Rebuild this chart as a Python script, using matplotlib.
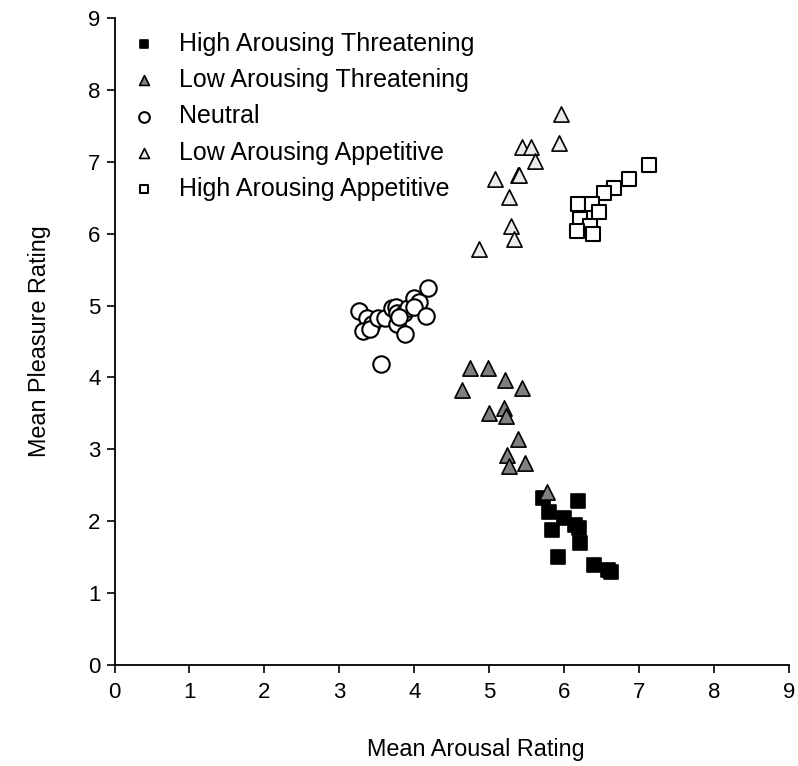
import matplotlib
matplotlib.use("Agg")
from matplotlib import pyplot as plt

plt.rcParams['font.family'] = ['Liberation Sans', 'DejaVu Sans']

# mean ratings per picture, grouped by category
hat_x = [5.72, 5.80, 5.84, 5.92, 6.00, 6.15, 6.20, 6.18, 6.21, 6.40, 6.58, 6.63]
hat_y = [2.32, 2.13, 1.88, 1.50, 2.04, 1.95, 1.90, 2.28, 1.70, 1.39, 1.32, 1.30]

lat_x = [4.64, 4.75, 4.99, 5.00, 5.21, 5.20, 5.22, 5.24, 5.27, 5.39, 5.44, 5.48, 5.77]
lat_y = [3.82, 4.13, 4.13, 3.50, 3.96, 3.57, 3.46, 2.92, 2.77, 3.15, 3.85, 2.81, 2.41]

neu_x = [3.26, 3.37, 3.43, 3.32, 3.41, 3.51, 3.61, 3.70, 3.75, 3.77, 3.77, 3.87,
         3.86, 3.92, 4.00, 4.06, 4.00, 4.15, 4.18, 3.56, 3.80]
neu_y = [4.92, 4.83, 4.75, 4.64, 4.67, 4.82, 4.82, 4.96, 4.98, 4.89, 4.75, 4.61,
         4.90, 4.96, 5.10, 5.05, 4.98, 4.85, 5.25, 4.19, 4.84]

laa_x = [5.96, 5.93, 5.44, 5.56, 5.61, 5.38, 5.40, 5.08, 5.27, 5.29, 5.33, 4.87]
laa_y = [7.67, 7.26, 7.20, 7.20, 7.01, 6.81, 6.82, 6.76, 6.51, 6.10, 5.93, 5.78]

haa_x = [7.13, 6.87, 6.67, 6.53, 6.18, 6.37, 6.46, 6.21, 6.35, 6.17, 6.38]
haa_y = [6.95, 6.76, 6.64, 6.57, 6.41, 6.41, 6.30, 6.21, 6.10, 6.03, 6.00]

fig = plt.figure(figsize=(7.98, 7.66), dpi=100)
ax = fig.add_axes([0.1435, 0.1319, 0.8452, 0.8446])

ax.scatter(hat_x, hat_y, marker='s', s=90, c='black', edgecolors='black',
           linewidths=1.2, label='High Arousing Threatening', zorder=3)
ax.scatter(lat_x, lat_y, marker='^', s=120, c='#808080', edgecolors='black',
           linewidths=1.2, label='Low Arousing Threatening', zorder=3)
ax.scatter(neu_x, neu_y, marker='o', s=140, c='white', edgecolors='black',
           linewidths=1.5, label='Neutral', zorder=3)
ax.scatter(laa_x, laa_y, marker='^', s=120, c='#ebebeb', edgecolors='black',
           linewidths=1.2, label='Low Arousing Appetitive', zorder=3)
ax.scatter(haa_x, haa_y, marker='s', s=90, c='white', edgecolors='black',
           linewidths=1.5, label='High Arousing Appetitive', zorder=3)

ax.set_xlim(0, 9)
ax.set_ylim(0, 9)
ax.set_xticks(range(10))
ax.set_yticks(range(10))
ax.spines['top'].set_visible(False)
ax.spines['right'].set_visible(False)
for sp in ['left', 'bottom']:
    ax.spines[sp].set_linewidth(1.3)
ax.tick_params(direction='out', length=6, width=1.2, labelsize=16)
ax.tick_params(axis='x', pad=6)
ax.tick_params(axis='y', pad=4)

ax.set_xlabel('Mean Arousal Rating', fontsize=16.8, labelpad=25.5)
ax.set_ylabel('Mean Pleasure Rating', fontsize=16.8, labelpad=27)
ax.xaxis.set_label_coords(0.536, -0.113)

ax.legend(loc='upper left', frameon=False, fontsize=18, markerscale=0.65,
          handlelength=1.24, handletextpad=0.78, labelspacing=0.49,
          borderpad=0.3, borderaxespad=0.25, bbox_to_anchor=(0.0, 1.0))

fig.savefig('out.png', dpi=100)
